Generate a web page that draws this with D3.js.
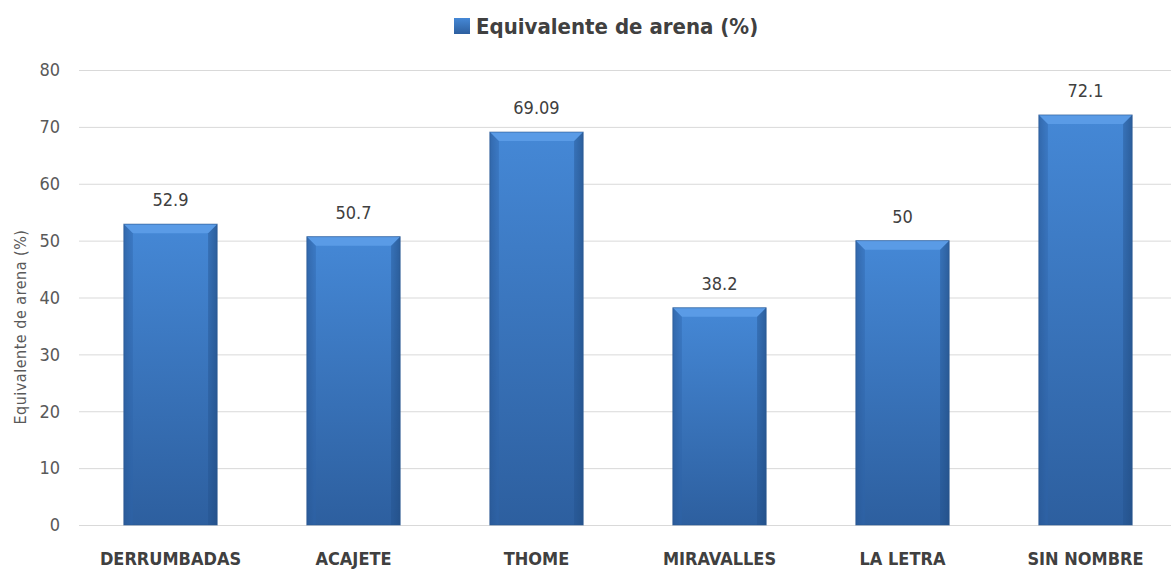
<!DOCTYPE html>
<meta charset="utf-8">
<style>
body { margin: 0; background: #fff; }
text { font-family: "Liberation Sans Narrow", "DejaVu Sans Condensed", sans-serif; }
.grid line { stroke: #d9d9d9; stroke-width: 1px; }
.tick-y { fill: #595959; font-size: 18px; }
.cat { fill: #404040; font-size: 18px; font-weight: bold; }
.val { fill: #404040; font-size: 18px; }
</style>
<html>
<body>
<svg id="chart"></svg>
<script src="https://cdnjs.cloudflare.com/ajax/libs/d3/7.8.5/d3.min.js"></script>
<script>
'use strict'

const categories = ["DERRUMBADAS", "ACAJETE", "THOME", "MIRAVALLES", "LA LETRA", "SIN NOMBRE"]
const values     = [52.9, 50.7, 69.09, 38.2, 50, 72.1]
const valueLabels = ["52.9", "50.7", "69.09", "38.2", "50", "72.1"]
const yTicks     = [0, 10, 20, 30, 40, 50, 60, 70, 80]
const seriesName = "Equivalente de arena (%)"
const yTitle     = "Equivalente de arena (%)"

const width = 1171, height = 573

const svg = d3.select("#chart")
  .attr("width", width)
  .attr("height", height)

const x = d3.scaleBand()
  .domain(categories)
  .range([79, 1177])
  .paddingInner(0.49)
  .paddingOuter(0.245)

const y = d3.scaleLinear()
  .domain([0, 80])
  .range([525, 70])

// gradients for the bevelled bars
const defs = svg.append("defs")
const vg = defs.append("linearGradient").attr("id", "barFill")
  .attr("x1", 0).attr("y1", 0).attr("x2", 0).attr("y2", 1)
vg.append("stop").attr("offset", "0%").attr("stop-color", "#4588d6")
vg.append("stop").attr("offset", "100%").attr("stop-color", "#2d5f9f")

const hg = defs.append("linearGradient").attr("id", "barSides")
  .attr("x1", 0).attr("y1", 0).attr("x2", 1).attr("y2", 0)
hg.append("stop").attr("offset", "0%").attr("stop-color", "#1c3f6e").attr("stop-opacity", 0.35)
hg.append("stop").attr("offset", "8%").attr("stop-color", "#1c3f6e").attr("stop-opacity", 0)
hg.append("stop").attr("offset", "92%").attr("stop-color", "#1c3f6e").attr("stop-opacity", 0)
hg.append("stop").attr("offset", "100%").attr("stop-color", "#1c3f6e").attr("stop-opacity", 0.4)

// gridlines
svg.append("g").attr("class", "grid")
  .selectAll("line")
  .data(yTicks)
  .enter().append("line")
    .attr("x1", 79).attr("x2", width)
    .attr("y1", d => y(d) + 0.5).attr("y2", d => y(d) + 0.5)

// y tick labels
svg.append("g")
  .selectAll("text")
  .data(yTicks)
  .enter().append("text")
    .attr("class", "tick-y")
    .attr("x", 60)
    .attr("y", d => y(d))
    .attr("dy", "0.35em")
    .attr("text-anchor", "end")
    .text(d => d)

// y axis title
svg.append("text")
  .attr("transform", "translate(26," + 327 + ") rotate(-90)")
  .attr("text-anchor", "middle")
  .attr("fill", "#595959")
  .style("font-size", "16px")
  .style("letter-spacing", "0.5px")
  .text(yTitle)

// bars
const bar = svg.append("g")
  .selectAll("g")
  .data(values)
  .enter().append("g")
    .attr("transform", (d, i) => "translate(" + x(categories[i]) + ",0)")

const bw = x.bandwidth()
bar.append("rect")
  .attr("y", d => y(d))
  .attr("width", bw)
  .attr("height", d => y(0) - y(d))
  .attr("fill", "url(#barFill)")
bar.append("rect")
  .attr("y", d => y(d))
  .attr("width", bw)
  .attr("height", d => y(0) - y(d))
  .attr("fill", "url(#barSides)")
// top bevel
const bev = 9
bar.append("path")
  .attr("d", d => "M0," + y(d) + "H" + bw + "L" + (bw - bev) + "," + (y(d) + bev) + "H" + bev + "Z")
  .attr("fill", "#5a9be6")
bar.append("path")
  .attr("d", d => "M0," + y(d) + "L" + bev + "," + (y(d) + bev) + "V" + (y(0)) + "H0Z")
  .attr("fill", "#2f64a8").attr("opacity", 0.45)
bar.append("path")
  .attr("d", d => "M" + bw + "," + y(d) + "L" + (bw - bev) + "," + (y(d) + bev) + "V" + (y(0)) + "H" + bw + "Z")
  .attr("fill", "#24528c").attr("opacity", 0.45)
bar.append("rect")
  .attr("y", d => y(d))
  .attr("width", bw)
  .attr("height", d => y(0) - y(d))
  .attr("fill", "none")
  .attr("stroke", "#2a568f")
  .attr("stroke-opacity", 0.6)

// value labels
bar.append("text")
  .attr("class", "val")
  .attr("x", bw / 2)
  .attr("y", d => y(d) - 18)
  .attr("text-anchor", "middle")
  .text((d, i) => valueLabels[i])

// category labels
svg.append("g")
  .selectAll("text")
  .data(categories)
  .enter().append("text")
    .attr("class", "cat")
    .attr("x", d => x(d) + bw / 2)
    .attr("y", 565)
    .attr("text-anchor", "middle")
    .text(d => d)

// legend / title
const legend = svg.append("g")
legend.append("rect")
  .attr("x", 454).attr("y", 18).attr("width", 16).attr("height", 16)
  .attr("fill", "url(#barFill)")
legend.append("text")
  .attr("x", 476).attr("y", 34)
  .attr("fill", "#404040")
  .style("font-size", "22px")
  .style("font-weight", "bold")
  .text(seriesName)
</script>
</body>
</html>
